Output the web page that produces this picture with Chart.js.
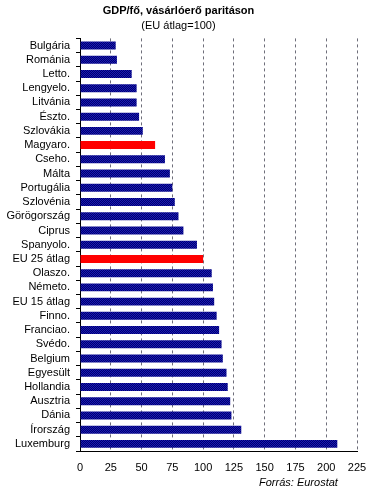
<!DOCTYPE html>
<html>
<head>
<meta charset="utf-8">
<script src="https://cdn.jsdelivr.net/npm/chart.js@4/dist/chart.umd.min.js"></script>
<style>
  html, body { margin: 0; padding: 0; background: #ffffff; }
  #wrap { position: relative; width: 370px; height: 494px; }
  #source { position: absolute; left: 259px; top: 476px; font: italic 11px "Liberation Sans", Arial, sans-serif; color: #000; white-space: nowrap; }
</style>
</head>
<body>
<div id="wrap">
  <canvas id="c" width="370" height="494"></canvas>
  <div id="source">Forrás: Eurostat</div>
</div>
<script>
const categories = ["Bulgária","Románia","Letto.","Lengyelo.","Litvánia","Észto.","Szlovákia","Magyaro.","Cseho.","Málta","Portugália","Szlovénia","Görögország","Ciprus","Spanyolo.","EU 25 átlag","Olaszo.","Németo.","EU 15 átlag","Finno.","Franciao.","Svédo.","Belgium","Egyesült","Hollandia","Ausztria","Dánia","Írország","Luxemburg"];
const values = [29, 30, 42, 46, 46, 48, 51, 61, 69, 73, 75, 77, 80, 84, 95, 100, 107, 108, 109, 111, 113, 115, 116, 119, 120, 122, 123, 131, 209];
const highlighted = ["Magyaro.", "EU 25 átlag"];
const xTicks = [0, 25, 50, 75, 100, 125, 150, 175, 200, 225];
const titleText = "GDP/fő, vásárlóerő paritáson";
const subtitleText = "(EU átlag=100)";

// dithered navy pattern
const pc = document.createElement('canvas');
pc.width = 2; pc.height = 2;
const px = pc.getContext('2d');
px.fillStyle = '#00006e'; px.fillRect(0,0,2,2);
px.fillStyle = '#1a1ab4'; px.fillRect(0,0,1,1); px.fillRect(1,1,1,1);
const ctx = document.getElementById('c').getContext('2d');
const navy = ctx.createPattern(pc, 'repeat');

const colors = categories.map(c => highlighted.includes(c) ? '#ff0000' : navy);
const FONT = '"Liberation Sans", Arial, sans-serif';

new Chart(ctx, {
  type: 'bar',
  data: {
    labels: categories,
    datasets: [{
      data: values,
      backgroundColor: colors,
      borderWidth: 0,
      barPercentage: 0.56,
      categoryPercentage: 1.0
    }]
  },
  options: {
    indexAxis: 'y',
    responsive: false,
    animation: false,
    devicePixelRatio: 1,
    layout: { padding: { left: 0, right: 13, top: 0, bottom: 13 } },
    plugins: {
      legend: { display: false },
      tooltip: { enabled: false },
      title: {
        display: true,
        text: titleText,
        color: '#000',
        font: { family: FONT, size: 11, weight: 'bold' },
        padding: { top: 4, bottom: 2 }
      },
      subtitle: {
        display: true,
        text: subtitleText,
        color: '#000',
        font: { family: FONT, size: 11, weight: 'normal' },
        padding: { top: 0, bottom: 6 }
      }
    },
    scales: {
      x: {
        type: 'linear',
        min: 0,
        max: 225,
        afterBuildTicks: (axis) => { axis.ticks = xTicks.map(v => ({ value: v })); },
        afterFit: (axis) => { axis.height = 30; axis.paddingRight = 0; axis.paddingLeft = 0; },
        ticks: {
          color: '#000',
          font: { family: FONT, size: 11 },
          padding: 10,
          maxRotation: 0
        },
        grid: {
          drawTicks: false,
          color: (c) => c.tick && c.tick.value === 0 ? 'rgba(0,0,0,0)' : '#6e6e7a',
          lineWidth: 1,
          tickLength: 0
        },
        border: { display: true, color: '#000', width: 1, dash: [3, 3] }
      },
      y: {
        type: 'category',
        afterFit: (axis) => { axis.width = 80; axis.paddingTop = 0; axis.paddingBottom = 0; },
        ticks: {
          color: '#000',
          font: { family: FONT, size: 11 },
          padding: 6,
          autoSkip: false
        },
        grid: {
          drawOnChartArea: false,
          drawTicks: true,
          tickLength: 4,
          color: '#000',
          offset: true
        },
        border: { display: true, color: '#000', width: 1 }
      }
    }
  }
});
</script>
</body>
</html>
